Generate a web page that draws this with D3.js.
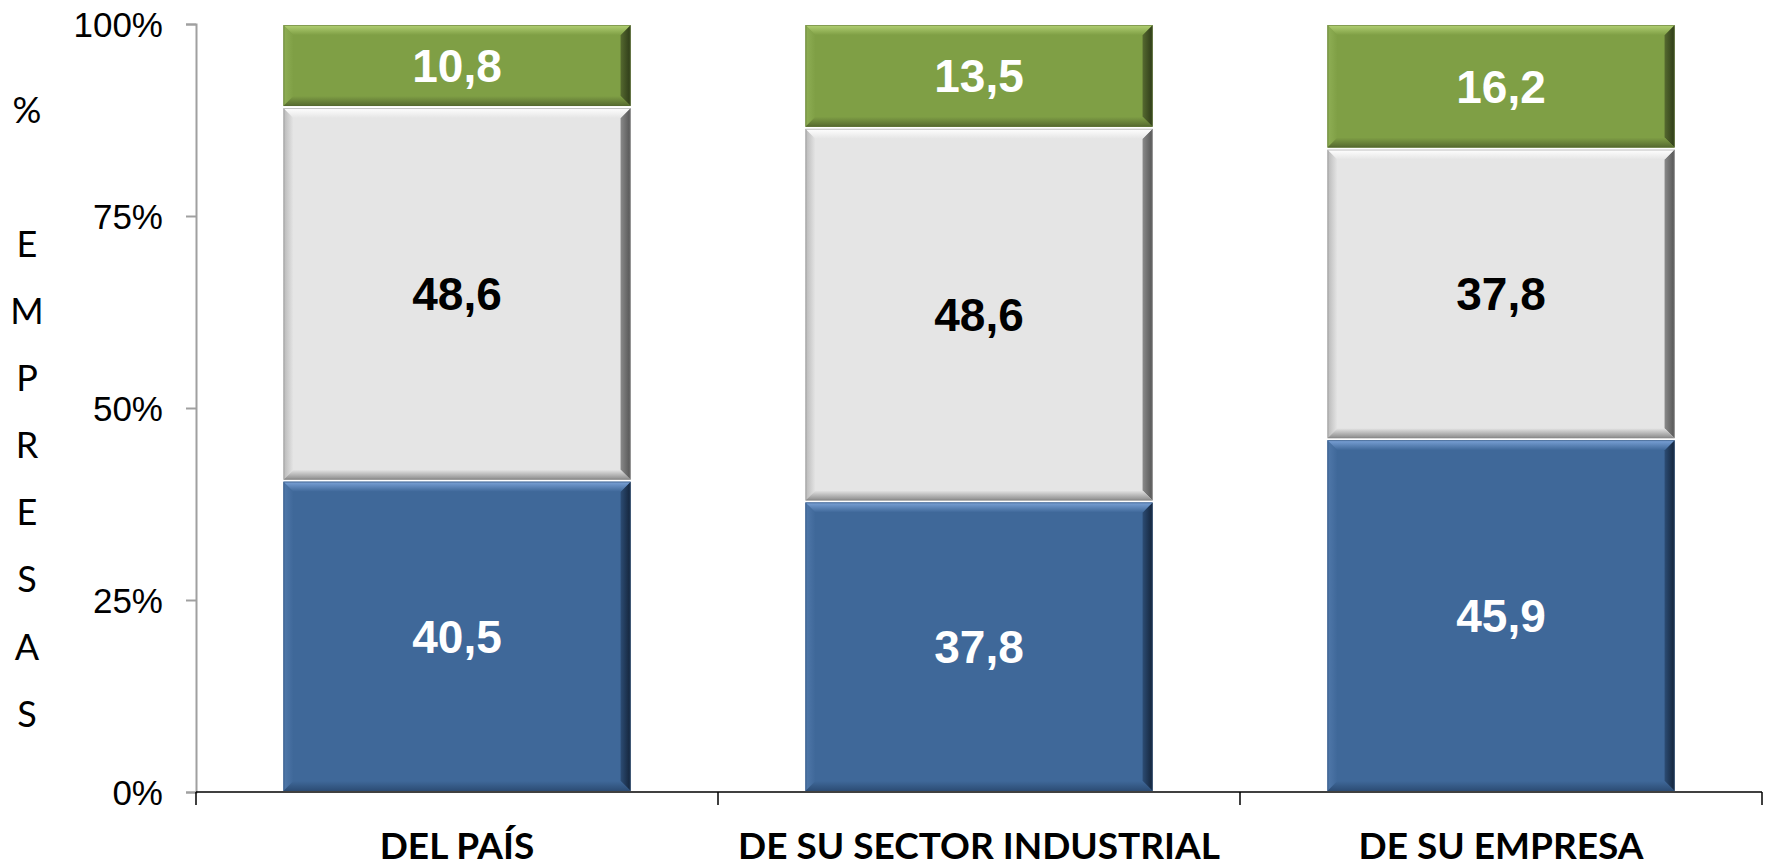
<!DOCTYPE html>
<html><head><meta charset="utf-8">
<script src="https://cdn.jsdelivr.net/npm/d3@7"></script>
<style>body{margin:0;background:#fff;}svg{display:block;}</style>
</head><body>
<svg id="c" width="1769" height="867"></svg>
<script>
const categories = ["DEL PAÍS", "DE SU SECTOR INDUSTRIAL", "DE SU EMPRESA"];
const seriesNames = ["s1", "s2", "s3"];
const s1 = [40.5, 37.8, 45.9];
const s2 = [48.6, 48.6, 37.8];
const s3 = [10.8, 13.5, 16.2];
const yTicks = [0, 0.25, 0.5, 0.75, 1];
const yTickLabels = ["0%", "25%", "50%", "75%", "100%"];
const yTitle = ["%", "", "E", "M", "P", "R", "E", "S", "A", "S"];

const colors = {
  s1: {base:"#3F6899", light:"#7CA3D8", side:"#5078AA", dark:"#2C4C74", darkest:"#14243A", text:"#fff"},
  s2: {base:"#E5E5E5", light:"#FFFFFF", side:"#B8B8B8", dark:"#8A8A8A", darkest:"#555555", text:"#000"},
  s3: {base:"#7F9F45", light:"#B3D174", side:"#8FAF55", dark:"#55692F", darkest:"#2E3B18", text:"#fff"}
};

const data = categories.map((c,i)=>({cat:c, s1:s1[i], s2:s2[i], s3:s3[i]}));
const stack = d3.stack().keys(seriesNames).offset(d3.stackOffsetExpand);
const layers = stack(data);

const svg = d3.select("#c");
const mLeft = 196, mRight = 1762, mTop = 24, mBottom = 792;
const x = d3.scaleBand().domain(categories).range([mLeft, mRight]).paddingInner(0.335).paddingOuter(0.1675);
const y = d3.scaleLinear().domain([0,1]).range([mBottom, mTop]);

const defs = svg.append("defs");
function grad(id, x1,y1,x2,y2, c1, c2){
  const g = defs.append("linearGradient").attr("id",id).attr("x1",x1).attr("y1",y1).attr("x2",x2).attr("y2",y2);
  g.append("stop").attr("offset","0%").attr("stop-color",c1);
  g.append("stop").attr("offset","100%").attr("stop-color",c2);
}
seriesNames.forEach(k=>{
  const c = colors[k];
  grad(k+"T",0,0,0,1,c.light,c.base);
  grad(k+"B",0,0,0,1,c.base,c.dark);
  grad(k+"L",0,0,1,0,c.side,c.base);
  grad(k+"R",0,0,1,0,c.dark,c.darkest);
});

// y axis
const yAxis = d3.axisLeft(y).tickValues(yTicks).tickFormat((d,i)=>yTickLabels[i]).tickSize(10).tickPadding(23);
const gy = svg.append("g").attr("transform",`translate(${mLeft},0)`).call(yAxis);
gy.select(".domain").attr("stroke","#A0A0A0").attr("stroke-width",2);
gy.selectAll(".tick line").attr("stroke","#A0A0A0").attr("stroke-width",2);
gy.selectAll(".tick text").attr("font-family","'Liberation Sans', Arial, sans-serif").attr("font-size",35).attr("fill","#000").attr("dy","0.36em");

// bars
const b = 10;
layers.forEach(layer=>{
  const k = layer.key, c = colors[k];
  layer.forEach(d=>{
    const x0 = x(d.data.cat), w = x.bandwidth();
    const y0 = y(d[1]), y1 = y(d[0]);
    const yt = y0 + 1, h = (y1 - y0) - 2;
    const g = svg.append("g");
    g.append("rect").attr("x",x0).attr("y",yt).attr("width",w).attr("height",h).attr("fill",c.base);
    const X1 = x0, X2 = x0+w, Y1 = yt, Y2 = yt+h;
    const pts = {
      T: [[X1,Y1],[X2,Y1],[X2-b,Y1+b],[X1+b,Y1+b]],
      B: [[X1+b,Y2-b],[X2-b,Y2-b],[X2,Y2],[X1,Y2]],
      L: [[X1,Y1],[X1+b,Y1+b],[X1+b,Y2-b],[X1,Y2]],
      R: [[X2-b,Y1+b],[X2,Y1],[X2,Y2],[X2-b,Y2-b]]
    };
    ["L","R","T","B"].forEach(s=>{
      g.append("polygon").attr("points",pts[s].map(p=>p.join(",")).join(" ")).attr("fill",`url(#${k}${s})`);
    });
    g.append("rect").attr("x",X1+0.5).attr("y",Y1+0.5).attr("width",w-1).attr("height",h-1).attr("fill","none").attr("stroke",c.dark).attr("stroke-opacity",0.5).attr("stroke-width",1);
    const v = d.data[k];
    svg.append("text").attr("x",x0+w/2).attr("y",(y0+y1)/2).attr("dy","0.36em")
      .attr("text-anchor","middle").attr("font-family","'Liberation Sans', Arial, sans-serif")
      .attr("font-weight","bold").attr("font-size",46).attr("fill",c.text)
      .text(d3.format(".1f")(v).replace(".",","));
  });
});

// x axis
const bounds = [mLeft, ...categories.map((c,i)=> mLeft + (mRight-mLeft)*(i+1)/categories.length)];
svg.append("line").attr("x1",mLeft).attr("x2",mRight).attr("y1",mBottom).attr("y2",mBottom).attr("stroke","#000").attr("stroke-width",1.5);
bounds.forEach(bx=>{
  svg.append("line").attr("x1",bx).attr("x2",bx).attr("y1",mBottom).attr("y2",mBottom+13).attr("stroke","#000").attr("stroke-width",1.5);
});
categories.forEach(cat=>{
  svg.append("text").attr("x",x(cat)+x.bandwidth()/2).attr("y",859)
    .attr("text-anchor","middle").attr("font-family","Lato, sans-serif").attr("font-weight","700")
    .attr("font-size",37).attr("fill","#000").text(cat);
});

// y title stacked letters
yTitle.forEach((t,i)=>{
  svg.append("text").attr("x",27).attr("y",110 + i*67.07).attr("dy","0.36em").attr("text-anchor","middle")
    .attr("font-family","Lato, sans-serif").attr("font-size",36).attr("fill","#000").text(t);
});
</script>
</body></html>
